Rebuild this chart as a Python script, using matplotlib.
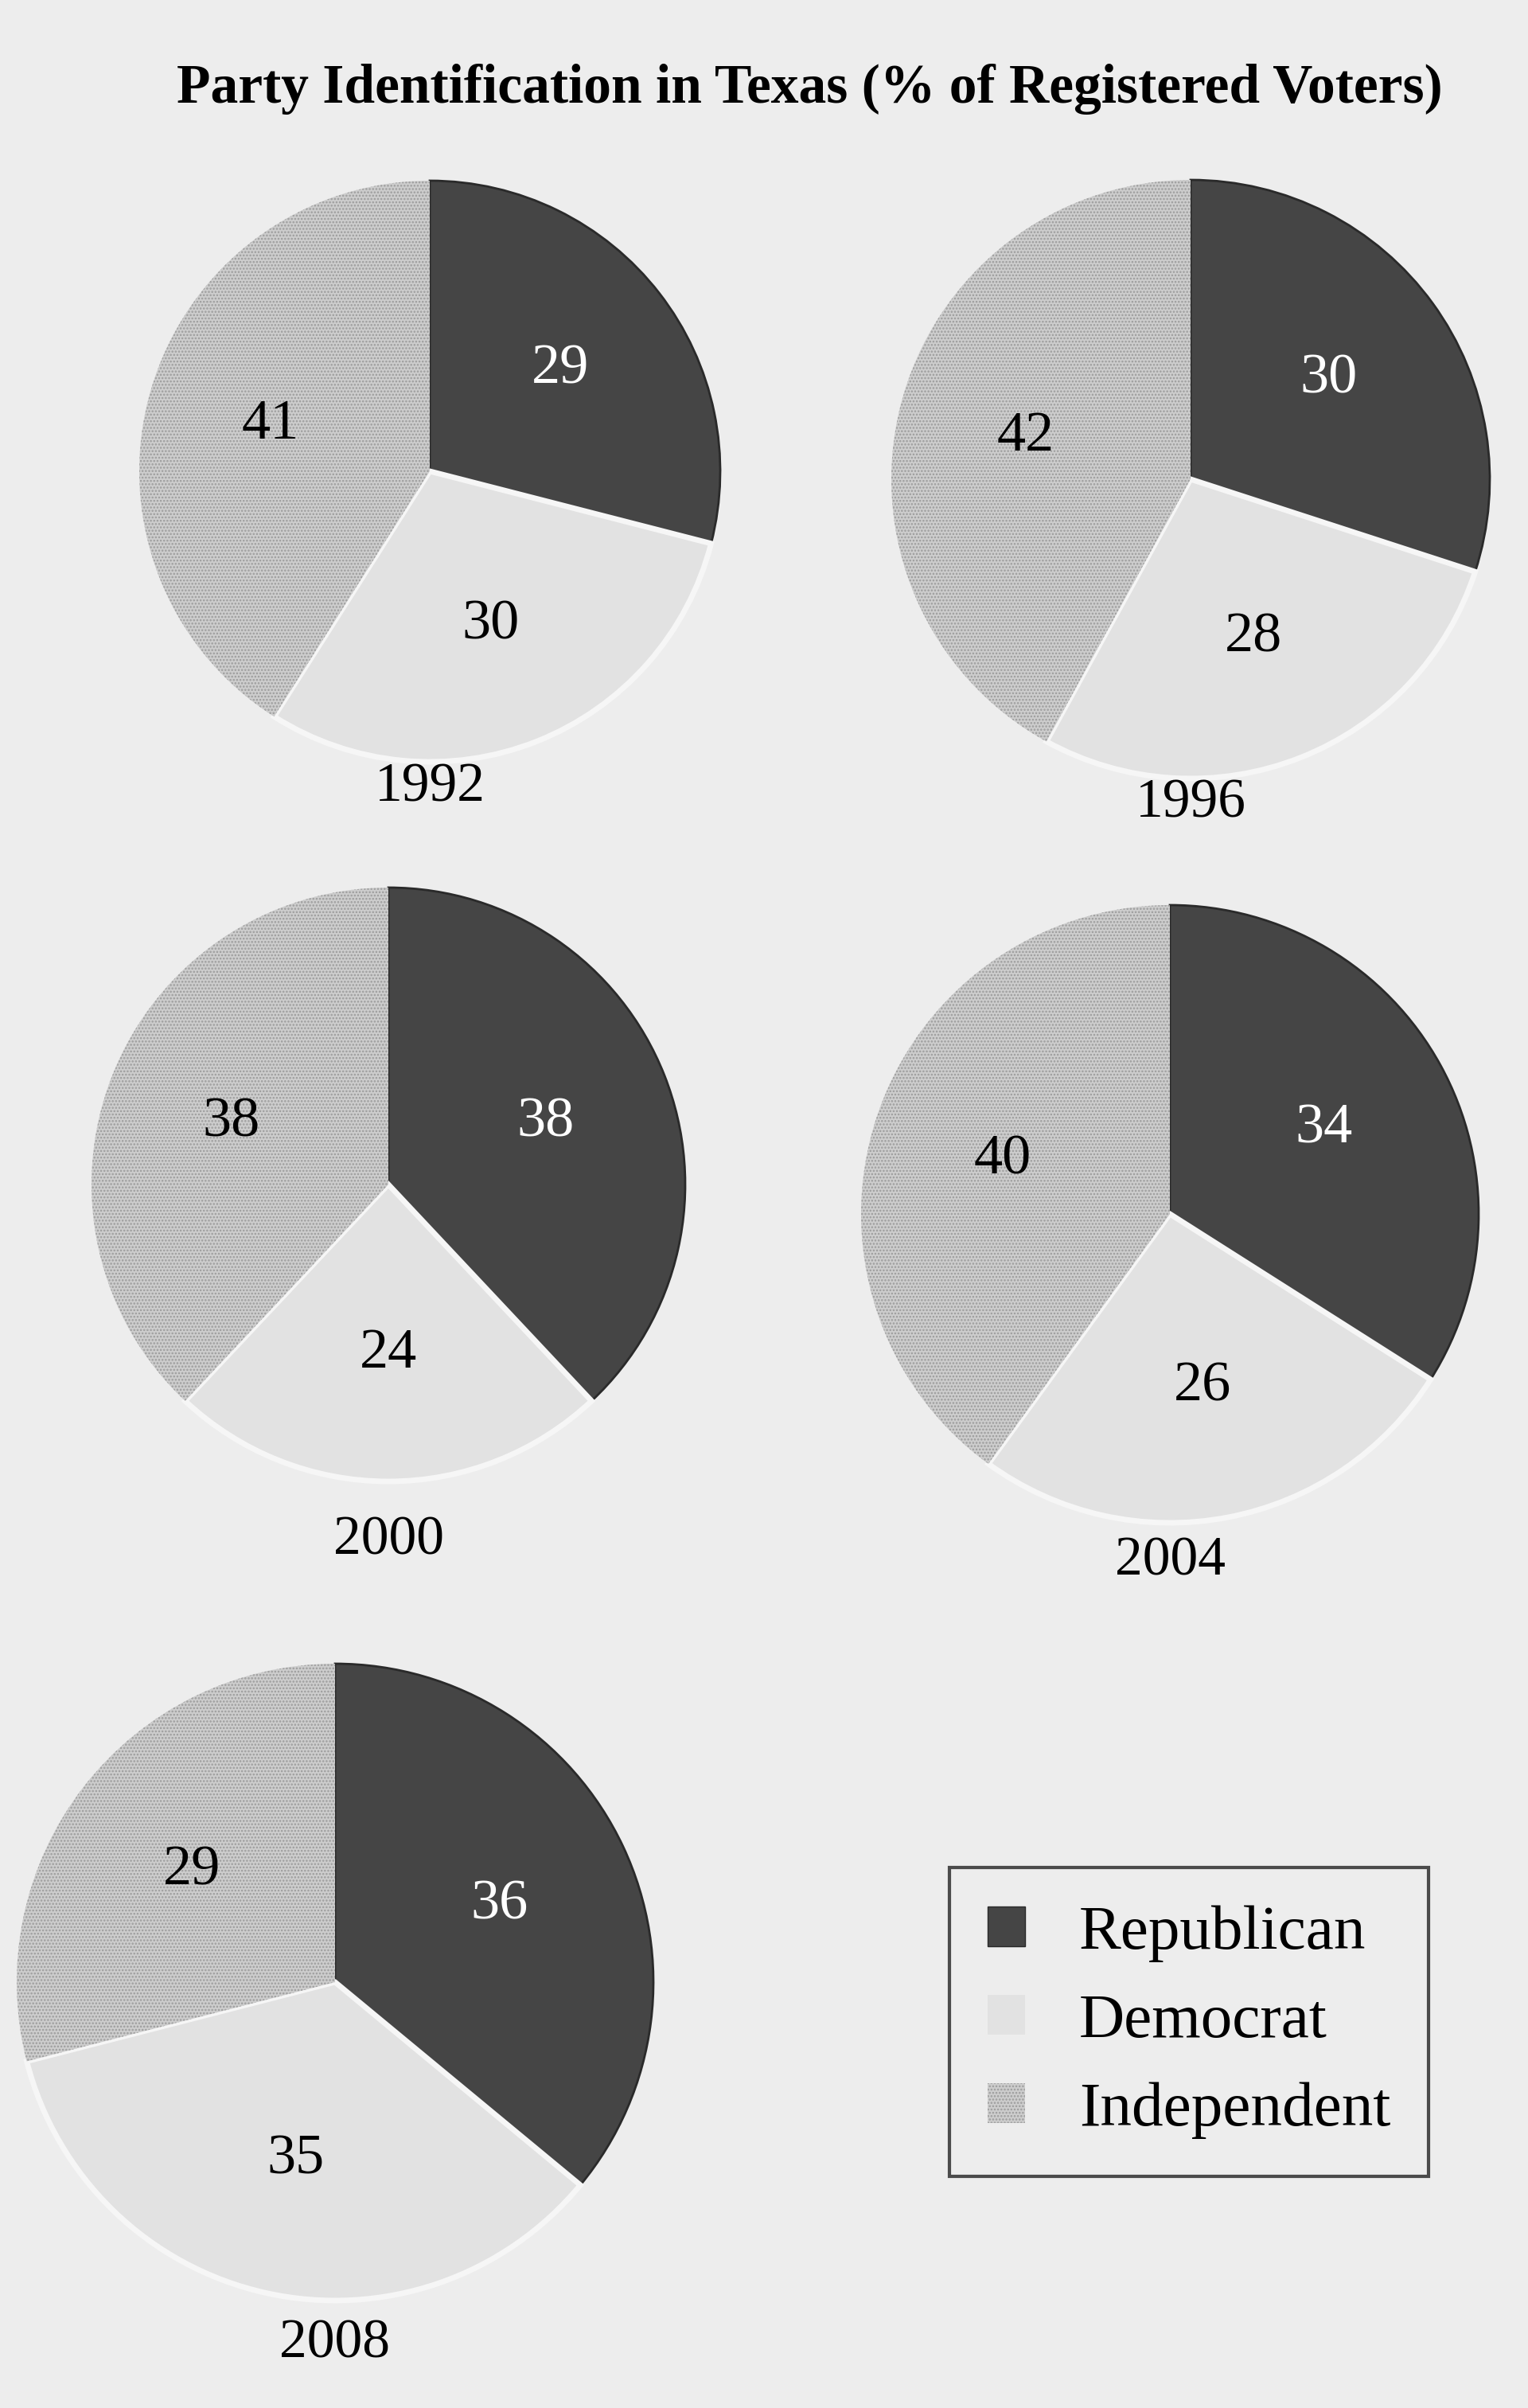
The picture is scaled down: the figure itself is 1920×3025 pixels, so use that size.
import matplotlib.pyplot as plt
from matplotlib.patches import Patch

years = ["1992", "1996", "2000", "2004", "2008"]
parties = ["Republican", "Democrat", "Independent"]
republican = [29, 30, 38, 34, 36]
democrat = [30, 28, 24, 26, 35]
independent = [41, 42, 38, 40, 29]

bg = "#ededed"
colors = ["#454545", "#e2e2e2", "#cdcdcd"]

plt.rcParams['font.family'] = ['Liberation Serif', 'DejaVu Serif']
plt.rcParams['hatch.linewidth'] = 1.2

W, H = 1920, 3025
fig = plt.figure(figsize=(19.2, 30.25), dpi=100, facecolor=bg)
ax = fig.add_axes([0, 0, 1, 1])
ax.set_xlim(0, W)
ax.set_ylim(0, H)
ax.set_aspect('equal')
ax.axis('off')

# layout: pie centre (x, y from top), radius, year label position
layout = [
    (540, 592, 365, 990),
    (1496, 602, 376, 1010),
    (488, 1488, 373, 1936),
    (1470, 1525, 388, 1962),
    (421, 2490, 400, 2945),
]

for i, yr in enumerate(years):
    vals = [republican[i], democrat[i], independent[i]]
    cx, cy, r, ly = layout[i]
    wedges, texts, autotexts = ax.pie(
        vals, colors=colors, startangle=90, counterclock=False,
        center=(cx, H - cy), radius=r, pctdistance=0.57,
        autopct=lambda p, v=vals: f"{p * sum(v) / 100:.0f}",
        wedgeprops=dict(edgecolor="#f6f6f6", linewidth=5),
        textprops=dict(fontsize=52))
    wedges[0].set_edgecolor("#2a2a2a")
    wedges[0].set_linewidth(2)
    wedges[2].set_hatch("....")
    wedges[2].set_edgecolor("#9c9c9c")
    wedges[2].set_linewidth(0)
    autotexts[0].set_color("white")
    ax.text(cx, H - ly, yr, ha="center", va="center", fontsize=50)

ax.set_xlim(0, W)
ax.set_ylim(0, H)

fig.text(1017 / W, 1 - 112 / H,
         "Party Identification in Texas (% of Registered Voters)",
         ha="center", va="center", fontsize=50, fontweight="bold")

handles = [Patch(facecolor=colors[0], edgecolor="#2a2a2a"),
           Patch(facecolor=colors[1], edgecolor="none"),
           Patch(facecolor=colors[2], edgecolor="#9c9c9c", hatch="....", linewidth=0)]
leg = fig.legend(handles, parties, loc="center", bbox_to_anchor=(1494 / W, 1 - 2540 / H),
                 fontsize=57, frameon=True, fancybox=False, edgecolor="#222222",
                 facecolor=bg, handlelength=0.6, handleheight=0.6, handletextpad=0.85,
                 labelspacing=0.5, borderpad=0.6, borderaxespad=0)
leg.get_frame().set_linewidth(3)

fig.savefig("out.png", dpi=100, facecolor=bg)
